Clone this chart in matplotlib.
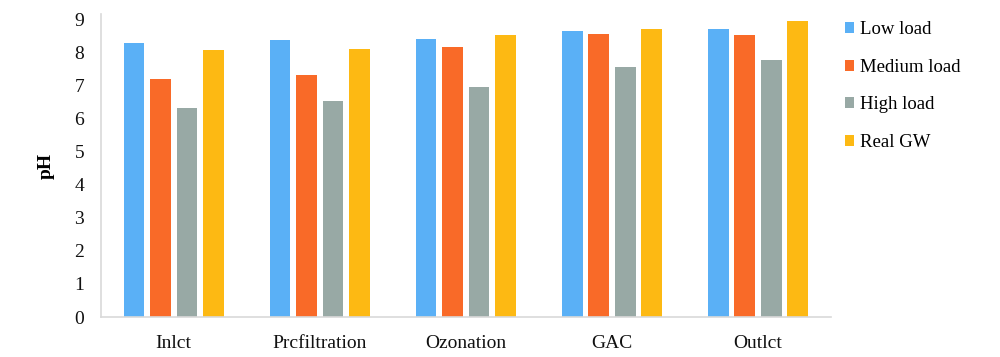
import matplotlib
matplotlib.use("Agg")
import matplotlib.pyplot as plt
import numpy as np
from matplotlib.patches import Patch

categories = ["Inlct", "Prcfiltration", "Ozonation", "GAC", "Outlct"]
series_names = ["Low load", "Medium load", "High load", "Real GW"]
low_load = [8.28, 8.36, 8.40, 8.64, 8.69]
medium_load = [7.19, 7.30, 8.17, 8.54, 8.51]
high_load = [6.31, 6.53, 6.94, 7.57, 7.78]
real_gw = [8.06, 8.10, 8.52, 8.69, 8.95]
yticks = list(range(0, 10))

colors = ["#5AB0F6", "#F96A28", "#98A9A5", "#FDB913"]
values = [low_load, medium_load, high_load, real_gw]

plt.rcParams['font.family'] = ['Liberation Serif', 'DejaVu Serif']

fig = plt.figure(figsize=(10, 3.57), dpi=100)
ax = fig.add_axes([0.1007, 0.112, 0.7303, 0.849])

x = np.arange(len(categories))
pitch = 0.1815
width = 0.142
for i, (vals, c) in enumerate(zip(values, colors)):
    ax.bar(x + (i - 1.5) * pitch, vals, width=width, color=c, label=series_names[i])

ax.set_xlim(-0.5, len(categories) - 0.5)
ax.set_ylim(0, 9.16)
ax.set_yticks(yticks)
ax.set_yticklabels([str(t) for t in yticks])
ax.set_xticks(x)
ax.set_xticklabels(categories)
ax.tick_params(axis='both', length=0, labelsize=14, colors='#111111')
ax.tick_params(axis='y', pad=12)
ax.tick_params(axis='x', pad=13)
for s in ['top', 'right']:
    ax.spines[s].set_visible(False)
for s in ['left', 'bottom']:
    ax.spines[s].set_color('#D9D9D9')
    ax.spines[s].set_linewidth(1.2)

ax.set_ylabel("pH", fontsize=14, fontweight='bold', labelpad=14)

handles = [Patch(facecolor=c, edgecolor='none') for c in colors]
fig.legend(handles, series_names, loc='upper left', bbox_to_anchor=(0.837, 0.962),
           frameon=False, fontsize=13.5, handlelength=0.52, handleheight=0.52,
           handletextpad=0.3, labelspacing=1.1, borderaxespad=0)

fig.savefig("out.png", dpi=100)
